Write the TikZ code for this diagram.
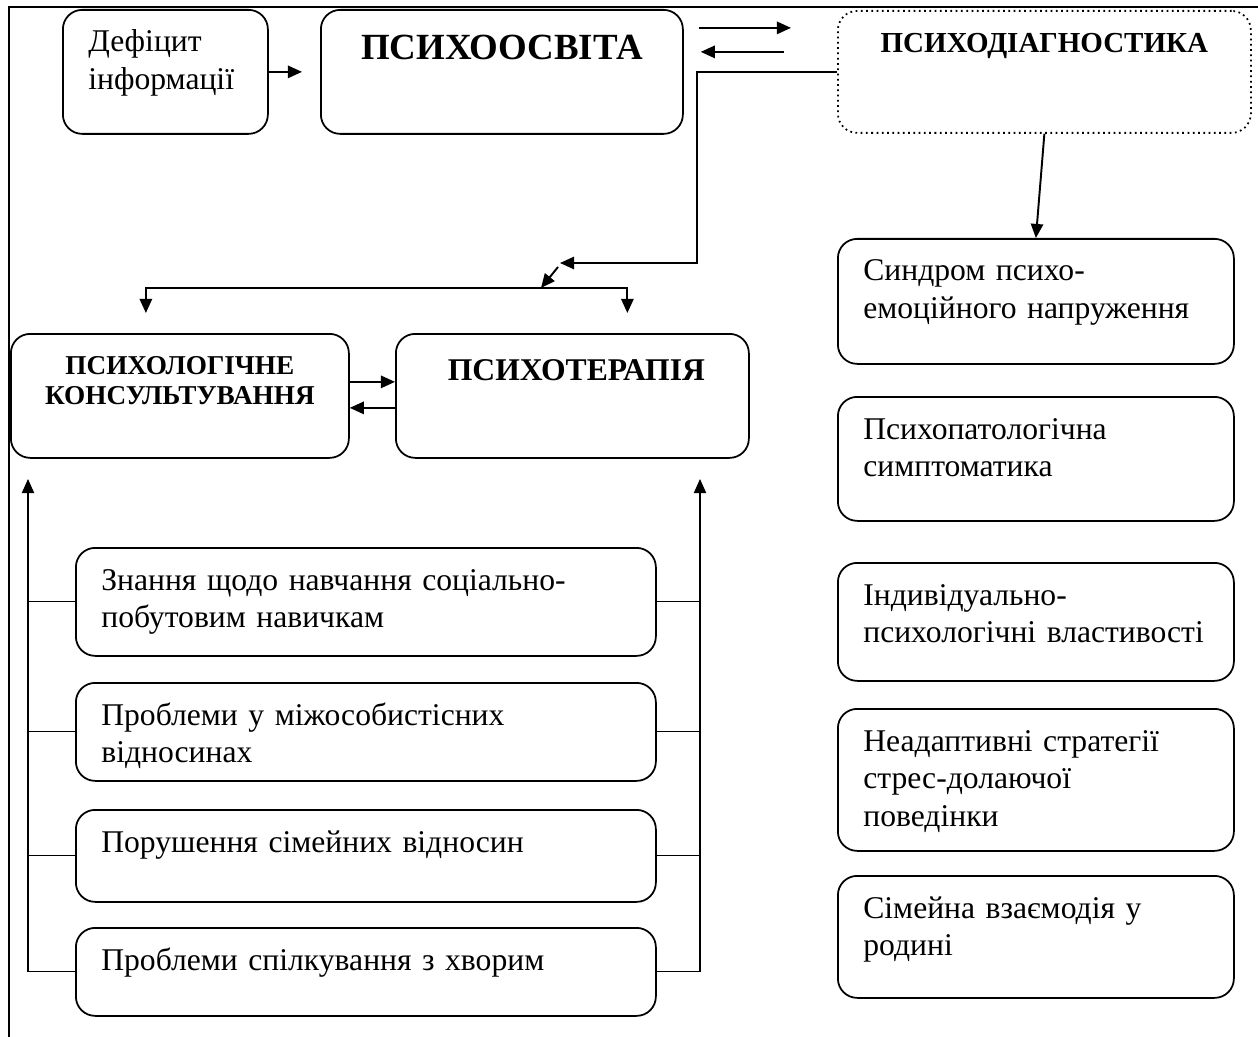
\documentclass[tikz,border=0pt]{standalone}
\usepackage{fontspec}
\setmainfont{Liberation Serif}
\usetikzlibrary{arrows.meta}
\newlength{\pxl}\setlength{\pxl}{0.02cm} % один пиксель

\begin{document}
\begin{tikzpicture}[x=0.02cm, y=-0.02cm] % координаты в пикселях, ось y вниз
\tikzstyle{mybox} = [draw, line width=1pt, rounded corners=11pt, anchor=north west, inner sep=0pt] % блок со скругленными углами
\tikzstyle{mytext} = [font=\fontsize{18}{21.5}\selectfont, anchor=base west, align=left, text width=520\pxl, inner sep=0pt, xshift=26\pxl, yshift=-43\pxl] % обычный текст в блоке
\tikzstyle{myhead} = [anchor=base, align=center, text width=400\pxl, inner sep=0pt] % заголовок блока
\tikzstyle{myarrow} = [-{Triangle[length=8pt,width=7pt]}, line width=1.1pt] % стрелка
\tikzstyle{myline} = [line width=0.6pt] % тонкая линия
\useasboundingbox (0,0) rectangle (1258,1037);
\draw[line width=1.1pt] (9,1037) -- (9,7) -- (1258,7); % рамка

% верхний ряд
\node[mybox, minimum width=205\pxl, minimum height=124\pxl, label={[mytext]north west:{Дефіцит\\інформації}}] (defic) at (62,9) {};
\node[mybox, minimum width=362\pxl, minimum height=124\pxl, label={[myhead, font=\fontsize{21}{25}\selectfont\bfseries, yshift=-51\pxl]north:{ПСИХООСВІТА}}] (osvita) at (320,9) {};
\node[mybox, dotted, minimum width=413\pxl, minimum height=122\pxl, label={[myhead, font=\fontsize{16.5}{19}\selectfont\bfseries, yshift=-43\pxl]north:{ПСИХОДІАГНОСТИКА}}] (diagn) at (837,10) {};

% второй ряд
\node[mybox, minimum width=338\pxl, minimum height=124\pxl, label={[myhead, font=\fontsize{15.5}{17}\selectfont\bfseries, yshift=-42\pxl]north:{ПСИХОЛОГІЧНЕ\\КОНСУЛЬТУВАННЯ}}] (konsult) at (10,333) {};
\node[mybox, minimum width=353\pxl, minimum height=124\pxl, label={[myhead, font=\fontsize{18}{21}\selectfont\bfseries, xshift=4\pxl, yshift=-47\pxl]north:{ПСИХОТЕРАПІЯ}}] (terap) at (395,333) {};

% запросы слева
\node[mybox, minimum width=580\pxl, minimum height=108\pxl, label={[mytext]north west:{Знання щодо навчання соціально-\\побутовим навичкам}}] (z1) at (75,547) {};
\node[mybox, minimum width=580\pxl, minimum height=98\pxl, label={[mytext]north west:{Проблеми у міжособистісних\\відносинах}}] (z2) at (75,682) {};
\node[mybox, minimum width=580\pxl, minimum height=92\pxl, label={[mytext]north west:{Порушення сімейних відносин}}] (z3) at (75,809) {};
\node[mybox, minimum width=580\pxl, minimum height=88\pxl, label={[mytext]north west:{Проблеми спілкування з хворим}}] (z4) at (75,927) {};

% мишени диагностики справа
\node[mybox, minimum width=396\pxl, minimum height=125\pxl, label={[mytext]north west:{Синдром психо-\\емоційного напруження}}] (s1) at (837,238) {};
\node[mybox, minimum width=396\pxl, minimum height=124\pxl, label={[mytext]north west:{Психопатологічна\\симптоматика}}] (s2) at (837,396) {};
\node[mybox, minimum width=396\pxl, minimum height=118\pxl, label={[mytext]north west:{Індивідуально-\\психологічні властивості}}] (s3) at (837,562) {};
\node[mybox, minimum width=396\pxl, minimum height=142\pxl, label={[mytext]north west:{Неадаптивні стратегії\\стрес-долаючої\\поведінки}}] (s4) at (837,708) {};
\node[mybox, minimum width=396\pxl, minimum height=122\pxl, label={[mytext]north west:{Сімейна взаємодія у\\родині}}] (s5) at (837,875) {};

\coordinate (bend) at (697,263);
\coordinate (hit) at (560,263);
\coordinate (split) at (541,288);
\coordinate (lb) at (28,479);
\coordinate (rb) at (700,479);

% стрелки
\draw[myarrow, shorten >=18\pxl] (defic) -- (osvita);
\draw[myarrow] ([shift={(15,-44)}]osvita.east) -- ([shift={(-46,-44)}]diagn.west);
\draw[myarrow] ([shift={(-53,-20)}]diagn.west) -- ([shift={(17,-20)}]osvita.east);
\draw[myarrow] (diagn.west) -| (bend) -- (hit);
\draw[myarrow] ([shift={(-2,4)}]hit) -- (split);
\draw[myarrow, shorten >=20\pxl] (split) -| ([shift={(-34,0)}]konsult.north);
\draw[myarrow, shorten >=20\pxl] (split) -| ([shift={(55,0)}]terap.north);
\draw[myarrow] ([shift={(0,-14)}]konsult.east) -- ([shift={(0,-14)}]terap.west);
\draw[myarrow] ([shift={(0,12)}]terap.west) -- ([shift={(0,12)}]konsult.east);
\draw[myarrow] (diagn.south) -- (s1.north);

% шины слева и справа
\draw[myline, myarrow, line width=0.6pt] (z4.west) -| (lb);
\draw[myline, myarrow, line width=0.6pt] (z4.east) -| (rb);
\foreach \z in {z1,z2,z3} {
  \draw[myline] (\z.west) -- (\z.west -| lb);
  \draw[myline] (\z.east) -- (\z.east -| rb);
}
\end{tikzpicture}
\end{document}
